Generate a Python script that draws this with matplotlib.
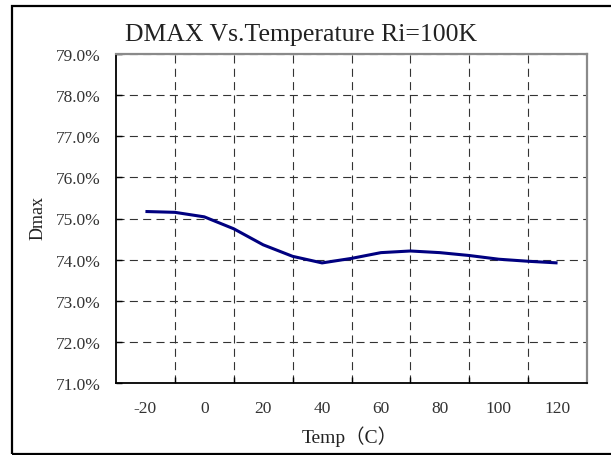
import matplotlib
matplotlib.use("Agg")
import matplotlib.pyplot as plt
from matplotlib.patches import Rectangle
from matplotlib.ticker import FixedLocator, FuncFormatter

# ---- data ----
temps = [-20, -10, 0, 10, 20, 30, 40, 50, 60, 70, 80, 90, 100, 110, 120]
dmax = [75.17, 75.15, 75.04, 74.75, 74.36, 74.08, 73.92, 74.03, 74.17, 74.21,
        74.17, 74.10, 74.01, 73.96, 73.92]
x_labels = [-20, 0, 20, 40, 60, 80, 100, 120]
y_ticks = [71, 72, 73, 74, 75, 76, 77, 78, 79]
title = "DMAX Vs.Temperature Ri=100K"
xlabel = "Temp\uff08C\uff09"
ylabel = "Dmax"

plt.rcParams['lines.scale_dashes'] = False
FONT = ['Liberation Serif', 'Noto Sans CJK SC', 'DejaVu Sans']

W, H = 611, 456
fig = plt.figure(figsize=(W / 100, H / 100), dpi=100)
fig.patch.set_facecolor('white')

# outer border
fig.patches.append(Rectangle((12 / W, 1.5 / H), (612 - 12) / W, (454.5 - 7) / H,
                             transform=fig.transFigure, fill=False,
                             edgecolor='black', linewidth=1.6, zorder=10))

ax = fig.add_axes([116 / W, 1 - 384 / H, (587 - 116) / W, (384 - 55) / H])

ax.plot(temps, dmax, color='#000080', linewidth=2.2, solid_capstyle='butt', zorder=5)

ax.set_xlim(-30, 130)
ax.set_ylim(71, 79)

# labels at category centres, grid at category boundaries
ax.xaxis.set_major_locator(FixedLocator(x_labels))
ax.xaxis.set_minor_locator(FixedLocator([v + 10 for v in x_labels[:-1]]))
ax.set_xticklabels([str(v) for v in x_labels])
ax.set_yticks(y_ticks)
ax.yaxis.set_major_formatter(FuncFormatter(lambda v, p: f"{v:.1f}%"))

ax.tick_params(axis='x', which='major', length=0, pad=12, labelsize=12.5)
ax.tick_params(axis='x', which='minor', direction='in', length=4, width=1, color='black')
ax.tick_params(axis='y', which='major', direction='in', length=4, width=1, pad=11,
               labelsize=12.5)
for lab in ax.get_xticklabels() + ax.get_yticklabels():
    lab.set_family(FONT)
    lab.set_color('#333333')

grid_kw = dict(color='#333333', linewidth=0.8, linestyle=(0, (5.8, 3.8)))
ax.grid(False)
ax.xaxis.grid(True, which='minor', **grid_kw)
ax.yaxis.grid(True, which='major', **grid_kw)
ax.set_axisbelow(True)

for s in ('left', 'bottom'):
    ax.spines[s].set_color('black')
    ax.spines[s].set_linewidth(1.3)
for s in ('top', 'right'):
    ax.spines[s].set_color('#8a8a8a')
    ax.spines[s].set_linewidth(1.6)

fig.text(301 / W, 1 - 35 / H, title, ha='center', va='center', fontsize=18.5,
         family=FONT, color='#222222')
fig.text(38 / W, 1 - 218 / H, ylabel, ha='center', va='center', rotation=90,
         fontsize=13, family=FONT, color='#222222')
fig.text(350 / W, 1 - 437 / H, xlabel, ha='center', va='center', fontsize=14,
         family=FONT, color='#222222')

fig.savefig('out.png', dpi=100)
